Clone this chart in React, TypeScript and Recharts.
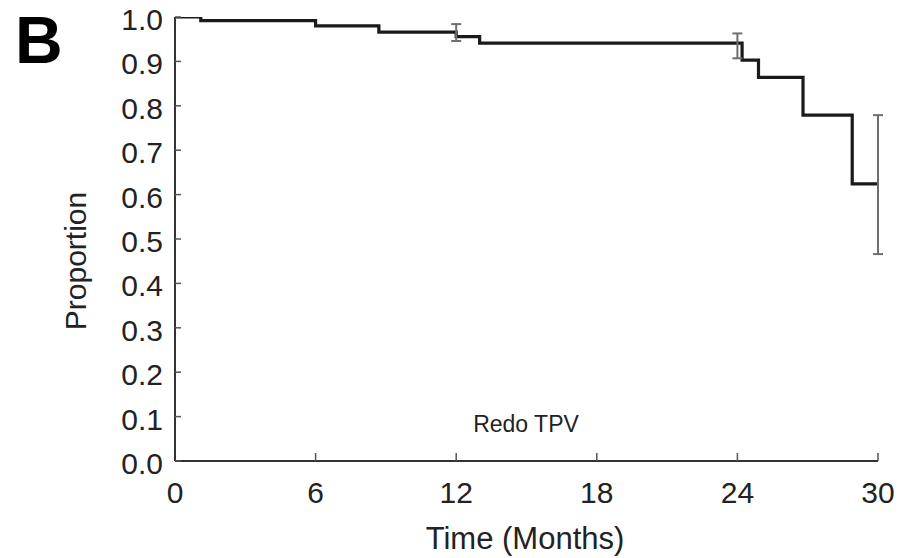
import React from 'react';
import { ComposedChart, Line, Scatter, XAxis, YAxis, ErrorBar, Label } from 'recharts';

// Kaplan-Meier step estimates (time in months, proportion)
const stepTimes = [0, 1.1, 6.0, 8.7, 12.0, 13.0, 24.2, 24.9, 26.8, 28.9, 30];
const stepValues = [1.0, 0.992, 0.98, 0.966, 0.956, 0.941, 0.903, 0.864, 0.779, 0.624, 0.624];

// Confidence interval bars
const ciTimes = [12, 24, 30];
const ciLow = [0.946, 0.907, 0.466];
const ciHigh = [0.984, 0.963, 0.779];

const xTicks = [0, 6, 12, 18, 24, 30];
const yTicks = [0, 0.1, 0.2, 0.3, 0.4, 0.5, 0.6, 0.7, 0.8, 0.9, 1.0];

const panelLetter = 'B';
const groupLabel = 'Redo TPV';
const xTitle = 'Time (Months)';
const yTitle = 'Proportion';

const stepData = stepTimes.map((t, i) => ({ t, s: stepValues[i] }));
const ciData = ciTimes.map((t, i) => ({
  t,
  mid: (ciLow[i] + ciHigh[i]) / 2,
  err: [(ciHigh[i] - ciLow[i]) / 2, (ciHigh[i] - ciLow[i]) / 2],
}));

const FONT = '"Liberation Sans", Arial, sans-serif';
const TEXT = '#222';

const YTick = (props: any) => {
  const { x, y, payload } = props;
  return (
    <text x={x} y={y} dy={13} textAnchor="end" fontSize={30} fontFamily={FONT} fill={TEXT}>
      {Number(payload.value).toFixed(1)}
    </text>
  );
};

const XTick = (props: any) => {
  const { x, y, payload } = props;
  return (
    <text x={x} y={y} dy={21} textAnchor="middle" fontSize={30} fontFamily={FONT} fill={TEXT}>
      {payload.value}
    </text>
  );
};

export default function App() {
  return (
    <div style={{ position: 'absolute', left: 0, top: 0, background: '#fff' }}>
      <ComposedChart
        width={904}
        height={558}
        margin={{ top: 17, right: 26, bottom: 37, left: 75 }}
      >
        <XAxis
          dataKey="t"
          type="number"
          domain={[0, 30]}
          ticks={xTicks}
          allowDataOverflow
          height={60}
          tickSize={-8}
          tickMargin={29}
          tick={XTick}
          axisLine={{ stroke: '#333', strokeWidth: 2 }}
          tickLine={{ stroke: '#555', strokeWidth: 1.5 }}
        >
          <Label
            content={() => (
              <g>
                <text x={525} y={549} textAnchor="middle" fontSize={31} fontFamily={FONT} fill={TEXT}>
                  {xTitle}
                </text>
                <text x={526} y={432} textAnchor="middle" fontSize={23} fontFamily={FONT} fill={TEXT}>
                  {groupLabel}
                </text>
              </g>
            )}
          />
        </XAxis>
        <YAxis
          type="number"
          domain={[0, 1]}
          ticks={yTicks}
          allowDataOverflow
          width={100}
          tickSize={-6}
          tickMargin={18}
          tick={YTick}
          axisLine={{ stroke: '#333', strokeWidth: 2 }}
          tickLine={{ stroke: '#555', strokeWidth: 1.5 }}
        >
          <Label
            content={() => (
              <g>
                <text
                  x={86}
                  y={261}
                  textAnchor="middle"
                  fontSize={30}
                  fontFamily={FONT}
                  fill={TEXT}
                  transform="rotate(-90 86 261)"
                >
                  {yTitle}
                </text>
                <text x={15} y={63} fontSize={66} fontWeight="bold" fontFamily={FONT} fill="#000">
                  {panelLetter}
                </text>
              </g>
            )}
          />
        </YAxis>
        <Line
          data={stepData}
          dataKey="s"
          type="stepAfter"
          stroke="#1a1a1a"
          strokeWidth={3.2}
          dot={false}
          isAnimationActive={false}
        />
        <Scatter
          data={ciData}
          dataKey="mid"
          shape={() => <g />}
          isAnimationActive={false}
        >
          <ErrorBar dataKey="err" direction="y" width={5} stroke="#6e6e6e" strokeWidth={2} />
        </Scatter>
      </ComposedChart>
    </div>
  );
}
